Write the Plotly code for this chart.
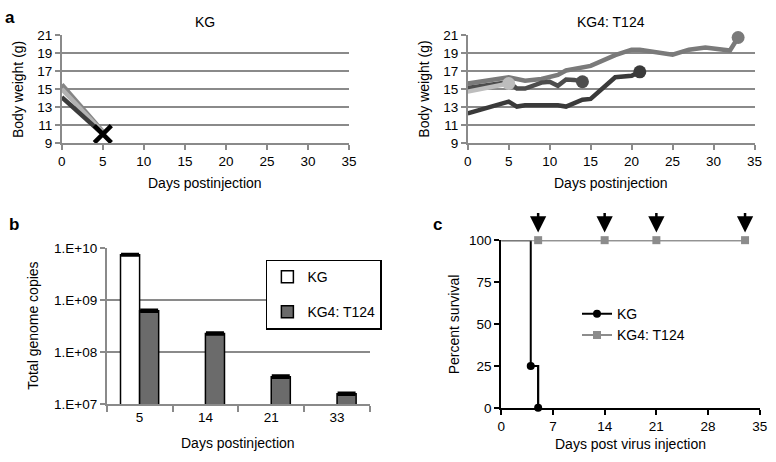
import plotly.graph_objects as go

# ---------------- Data ----------------
# Panel a (left): KG body weights
kg_days = [0, 5]
kg_mouse1 = [15.5, 10.3]
kg_mouse2 = [15.0, 10.2]
kg_mouse3 = [14.1, 10.0]
kg_death_day = [5]
kg_death_weight = [10.0]

# Panel a (right): KG4: T124 body weights
t_days_1 = [0, 5, 7, 9, 11, 12, 15, 18, 20, 21, 25, 27, 29, 32, 33]
t_w_1 = [15.6, 16.3, 15.9, 16.1, 16.55, 17.05, 17.55, 18.75, 19.35, 19.35, 18.8, 19.35, 19.6, 19.25, 20.7]
t_days_2 = [0, 5, 6, 7, 9, 10, 11, 12, 13, 14]
t_w_2 = [15.1, 15.75, 15.05, 15.05, 15.7, 15.8, 15.35, 16.05, 16.0, 15.8]
t_days_3 = [0, 5, 6, 7, 11, 12, 14, 15, 18, 20, 21]
t_w_3 = [12.3, 13.6, 13.05, 13.2, 13.2, 13.05, 13.8, 13.9, 16.3, 16.45, 16.9]
t_days_4 = [0, 5]
t_w_4 = [14.7, 15.6]

# Panel b: total genome copies
b_days = ["5", "14", "21", "33"]
b_kg_days = ["5"]
b_kg_vals = [7.5e9]
b_kg_err = [1.5e8]
b_t_vals = [6.3e8, 2.3e8, 3.4e7, 1.6e7]
b_t_err = [2.0e7, 8.0e6, 1.3e6, 6.0e5]
b_tickvals = [1e7, 1e8, 1e9, 1e10]
b_ticktext = ["1.E+07", "1.E+08", "1.E+09", "1.E+10"]

# Panel c: survival
c_kg_days = [0, 4, 5]
c_kg_surv = [100, 25, 0]
c_t_days = [0, 5, 14, 21, 33]
c_t_surv = [100, 100, 100, 100, 100]
injection_days = [5, 14, 21, 33]

W, H = 776, 462
FONT = "Liberation Sans, Arial, Helvetica, sans-serif"
GRID = "#8a8a8a"


def px_x(p):
    return p / W


def px_y(p):
    return 1 - p / H


fig = go.Figure()

# ---- Panel a left ----
for ys, col in [(kg_mouse1, "#858585"), (kg_mouse2, "#b3b3b3"), (kg_mouse3, "#3c3c3c")]:
    fig.add_trace(go.Scatter(x=kg_days, y=ys, mode="lines", line=dict(color=col, width=4.5),
                             xaxis="x", yaxis="y", showlegend=False))
fig.add_trace(go.Scatter(x=kg_death_day, y=kg_death_weight, mode="markers",
                         marker=dict(symbol="x-thin", size=17, line=dict(color="black", width=4.5)),
                         xaxis="x", yaxis="y", showlegend=False, cliponaxis=False))

# ---- Panel a right ----
for xs, ys, col in [(t_days_1, t_w_1, "#7a7a7a"), (t_days_3, t_w_3, "#3a3a3a"),
                    (t_days_2, t_w_2, "#4d4d4d"), (t_days_4, t_w_4, "#bdbdbd")]:
    fig.add_trace(go.Scatter(x=xs, y=ys, mode="lines", line=dict(color=col, width=4.5),
                             xaxis="x2", yaxis="y2", showlegend=False))
    fig.add_trace(go.Scatter(x=[xs[-1]], y=[ys[-1]], mode="markers",
                             marker=dict(color=col, size=13), cliponaxis=False,
                             xaxis="x2", yaxis="y2", showlegend=False))

# ---- Panel b ----
fig.add_trace(go.Bar(x=b_kg_days, y=b_kg_vals, name="KG", legendgroup="kg", legend="legend",
                     marker=dict(color="white", line=dict(color="black", width=1.5)),
                     error_y=dict(type="data", array=b_kg_err, color="black", thickness=3, width=9),
                     xaxis="x3", yaxis="y3"))
fig.add_trace(go.Bar(x=b_days, y=b_t_vals, name="KG4: T124", legendgroup="t", legend="legend",
                     marker=dict(color="#6b6b6b", line=dict(color="black", width=1.5)),
                     error_y=dict(type="data", array=b_t_err, color="black", thickness=3, width=9),
                     xaxis="x3", yaxis="y3"))

# ---- Panel c ----
# full step lines (from day 0), no markers
fig.add_trace(go.Scatter(x=c_kg_days, y=c_kg_surv, mode="lines", line_shape="hv",
                         line=dict(color="black", width=2), showlegend=False,
                         cliponaxis=False, xaxis="x4", yaxis="y4"))
fig.add_trace(go.Scatter(x=c_t_days, y=c_t_surv, mode="lines",
                         line=dict(color="#8c8c8c", width=2), showlegend=False,
                         cliponaxis=False, xaxis="x4", yaxis="y4"))
# event points with markers (legend entries)
fig.add_trace(go.Scatter(x=c_kg_days[1:], y=c_kg_surv[1:], name="KG", mode="lines+markers", line_shape="hv",
                         line=dict(color="black", width=2),
                         marker=dict(symbol="circle", size=8, color="black"),
                         cliponaxis=False, xaxis="x4", yaxis="y4", legend="legend2"))
fig.add_trace(go.Scatter(x=c_t_days[1:], y=c_t_surv[1:], name="KG4: T124", mode="lines+markers",
                         line=dict(color="#8c8c8c", width=2),
                         marker=dict(symbol="square", size=8, color="#8c8c8c"),
                         cliponaxis=False, xaxis="x4", yaxis="y4", legend="legend2"))

tickfont = dict(family=FONT, size=13.5, color="black")

a_x = dict(range=[0, 35], tickvals=[0, 5, 10, 15, 20, 25, 30, 35], showgrid=False, zeroline=False,
           showline=True, linecolor=GRID, linewidth=1.5, ticks="outside", ticklen=5, tickcolor=GRID,
           tickwidth=1.5, tickfont=tickfont, fixedrange=True, ticklabeloverflow="allow")
a_y = dict(range=[9, 21], tickvals=[9, 11, 13, 15, 17, 19, 21], showgrid=True, gridcolor=GRID, gridwidth=1.5,
           zeroline=False, showline=True, linecolor=GRID, linewidth=1.5, ticks="outside", ticklen=5,
           tickcolor=GRID, tickwidth=1.5, tickfont=tickfont, fixedrange=True)

fig.update_layout(
    width=W, height=H, margin=dict(l=0, r=0, t=0, b=0),
    paper_bgcolor="white", plot_bgcolor="white",
    font=dict(family=FONT, size=14, color="black"),
    barmode="group", bargap=0.42, bargroupgap=0,
    xaxis=dict(a_x, domain=[px_x(58.7), px_x(350.5)], anchor="y"),
    yaxis=dict(a_y, domain=[px_y(140.7), px_y(28.7)], anchor="x"),
    xaxis2=dict(a_x, domain=[px_x(471), px_x(762.3)], anchor="y2"),
    yaxis2=dict(a_y, domain=[px_y(140.7), px_y(28.7)], anchor="x2"),
    xaxis3=dict(domain=[px_x(104.3), px_x(371.7)], anchor="y3", type="category",
                categoryorder="array", categoryarray=b_days,
                showgrid=False, showline=True, linecolor=GRID, linewidth=1.5, ticks="outside",
                tickson="boundaries", ticklen=6, tickcolor=GRID, tickwidth=1.5, tickfont=tickfont,
                fixedrange=True),
    yaxis3=dict(domain=[px_y(410.7), px_y(249.3)], anchor="x3", type="log", range=[7, 10],
                tickvals=b_tickvals, ticktext=b_ticktext, showgrid=True, gridcolor=GRID, gridwidth=1.5,
                zeroline=False, showline=True, linecolor=GRID, linewidth=1.5, ticks="outside",
                ticklen=5, tickcolor=GRID, tickwidth=1.5, tickfont=tickfont, fixedrange=True),
    xaxis4=dict(domain=[px_x(505), px_x(767.7)], anchor="y4", range=[0, 35],
                tickvals=[0, 7, 14, 21, 28, 35], showgrid=False, zeroline=False, showline=True,
                linecolor="black", linewidth=2, ticks="outside", ticklen=5, tickcolor="black",
                tickwidth=2, tickfont=tickfont, fixedrange=True, ticklabeloverflow="allow"),
    yaxis4=dict(domain=[px_y(414.3), px_y(241)], anchor="x4", range=[0, 100],
                tickvals=[0, 25, 50, 75, 100], showgrid=False, zeroline=False, showline=True,
                linecolor="black", linewidth=2, ticks="outside", ticklen=5, tickcolor="black",
                tickwidth=2, tickfont=tickfont, fixedrange=True),
    legend=dict(x=px_x(266), y=px_y(261), xanchor="left", yanchor="top", bgcolor="white",
                bordercolor="black", borderwidth=1.5, font=dict(family=FONT, size=14),
                tracegroupgap=14, itemwidth=30, traceorder="grouped"),
    legend2=dict(x=px_x(582), y=px_y(301), xanchor="left", yanchor="top", bgcolor="rgba(0,0,0,0)",
                 borderwidth=0, font=dict(family=FONT, size=14), itemwidth=30, tracegroupgap=0),
)

ann = []


def text(x, y, s, size=14, angle=0, bold=False):
    ann.append(dict(x=px_x(x), y=px_y(y), xref="paper", yref="paper", text=("<b>%s</b>" % s) if bold else s,
                    showarrow=False, textangle=angle, font=dict(family=FONT, size=size, color="black"),
                    xanchor="center", yanchor="middle"))


text(6, 11, "a", size=17, bold=True)
text(10, 225, "b", size=17, bold=True)
text(440, 225, "c", size=17, bold=True)
text(204.6, 15, "KG")
text(616.6, 15, "KG4: T124")
text(204.6, 182, "Days postinjection")
text(616.6, 182, "Days postinjection")
text(14, 85, "Body weight (g)", angle=-90)
text(427, 85, "Body weight (g)", angle=-90)
text(30, 330, "Total genome copies", angle=-90)
text(238, 451, "Days postinjection")
text(457, 328, "Percent survival", angle=-90)
text(636, 452, "Days post virus injection")

for d in injection_days:
    ann.append(dict(x=d, y=px_y(233), xref="x4", yref="paper", ax=0, ay=-21, showarrow=True,
                    arrowhead=2, arrowsize=1.3, arrowwidth=2.5, arrowcolor="black", text=""))

fig.update_layout(annotations=ann)

fig.write_html("out.html", config={"displayModeBar": False},
               post_script="document.body.style.margin='0px';document.body.style.overflow='hidden';")
